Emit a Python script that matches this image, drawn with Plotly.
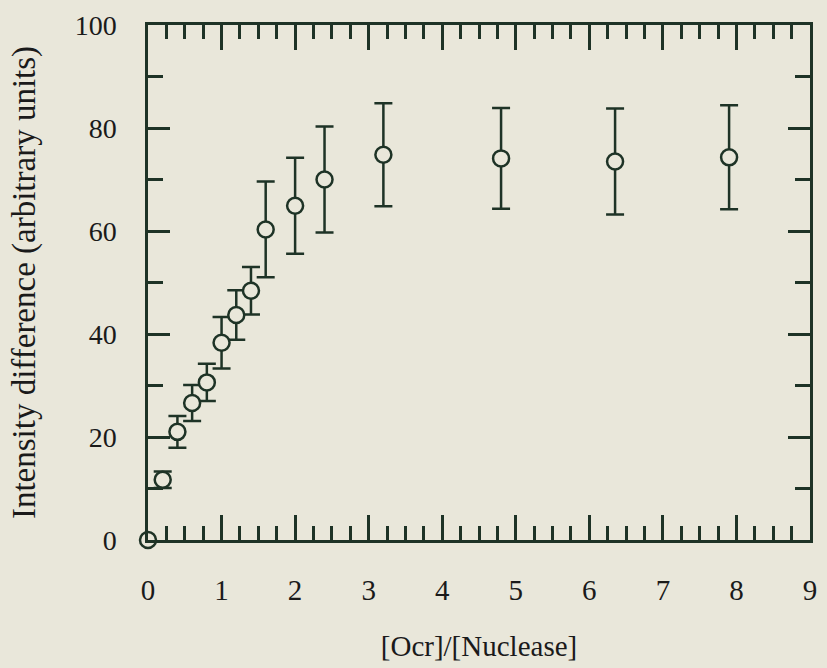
import plotly.graph_objects as go

ratio = [0.0, 0.2, 0.4, 0.6, 0.8, 1.0, 1.2, 1.4, 1.6, 2.0, 2.4, 3.2, 4.8, 6.35, 7.9]
intensity = [0.0, 11.7, 21.0, 26.6, 30.6, 38.3, 43.7, 48.4, 60.3, 64.9, 70.0, 74.8, 74.1, 73.5, 74.3]
err = [0.0, 1.6, 3.1, 3.5, 3.6, 5.0, 4.8, 4.6, 9.3, 9.3, 10.3, 10.0, 9.8, 10.3, 10.1]

x_ticks = [0, 1, 2, 3, 4, 5, 6, 7, 8, 9]
y_ticks = [0, 20, 40, 60, 80, 100]

ink = "#1e3326"
txt = "#1a1a1a"
bg = "#e9e7da"
font_family = "Liberation Serif, Times New Roman, serif"

fig = go.Figure()
fig.add_trace(go.Scatter(
    x=ratio, y=intensity, mode="markers",
    marker=dict(symbol="circle", size=16, color=bg, line=dict(width=2.5, color=ink)),
    error_y=dict(type="data", array=err, visible=True, color=ink, thickness=2.5, width=9),
    cliponaxis=False, showlegend=False,
))

fig.update_layout(
    width=827, height=668,
    margin=dict(l=148, r=10, t=23, b=127),
    paper_bgcolor=bg, plot_bgcolor=bg,
    font=dict(family=font_family, size=28, color=txt),
)
fig.update_xaxes(
    range=[0, 9], tickvals=x_ticks, ticktext=[str(v) for v in x_ticks],
    tickfont=dict(family=font_family, size=29, color=txt),
    ticklabeloverflow="allow",
    showgrid=False, zeroline=False,
    showline=True, linecolor=ink, linewidth=2.5, mirror="ticks",
    ticks="inside", ticklen=25, tickwidth=2.5, tickcolor=ink,
    minor=dict(dtick=0.25, ticks="inside", ticklen=14, tickwidth=2.5, tickcolor=ink, showgrid=False),
    ticklabelstandoff=22,
    title=dict(text="[Ocr]/[Nuclease]", font=dict(family=font_family, size=29, color=txt), standoff=32),
)
fig.update_yaxes(
    range=[0, 100], tickvals=y_ticks, ticktext=[str(v) for v in y_ticks],
    tickfont=dict(family=font_family, size=28, color=txt),
    showgrid=False, zeroline=False,
    showline=True, linecolor=ink, linewidth=2.5, mirror="ticks",
    ticks="inside", ticklen=22, tickwidth=2.5, tickcolor=ink,
    minor=dict(dtick=10, ticks="inside", ticklen=15, tickwidth=2.5, tickcolor=ink, showgrid=False),
    ticklabelstandoff=23,
    title=dict(text="Intensity difference (arbitrary units)", font=dict(family=font_family, size=33, color=txt), standoff=30),
)

fig.write_html("out.html")
